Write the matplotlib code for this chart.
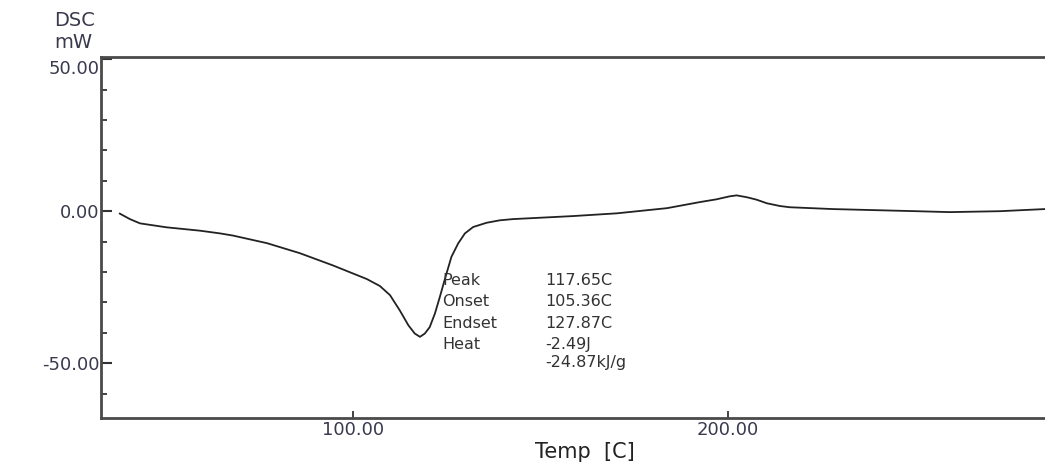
import numpy as np
import matplotlib
matplotlib.use("Agg")
import matplotlib.pyplot as plt
from matplotlib.ticker import MultipleLocator
from matplotlib.transforms import ScaledTranslation

# DSC curve: temperature [C] vs heat flow [mW]
temp = [37.6, 40.3, 43.0, 50.1, 59.0, 64.4, 67.8, 76.9, 85.7, 94.5, 103.6,
        107.1, 109.8, 112.4, 114.7, 116.4, 117.8, 119.1, 120.4, 121.8, 123.1,
        124.5, 126.2, 128.0, 129.8, 132.0, 135.6, 139.1, 142.6, 158.7, 170.4,
        183.8, 192.6, 197.0, 200.6, 202.4, 205.1, 207.7, 210.5, 214.0, 216.6,
        228.1, 250.5, 259.3, 272.7, 284.7]
dsc = [-0.8, -2.6, -4.0, -5.3, -6.4, -7.3, -8.0, -10.5, -13.8, -17.8, -22.3,
       -24.6, -27.6, -32.6, -37.5, -40.2, -41.3, -40.2, -38.1, -33.6, -28.2,
       -22.1, -15.0, -10.6, -7.3, -5.2, -3.8, -3.0, -2.6, -1.6, -0.7,
       1.0, 3.0, 3.9, 4.9, 5.2, 4.6, 3.8, 2.6, 1.7, 1.3,
       0.7, 0.0, -0.3, 0.0, 0.7]

xticks = [100, 200]
yticks = [-50, 0, 50]

peak_labels = ["Peak", "Onset", "Endset", "Heat", ""]
peak_values = ["117.65C", "105.36C", "127.87C", "-2.49J", "-24.87kJ/g"]

ink = "#3a3a4e"

fig = plt.figure(figsize=(10.45, 4.63), dpi=100)
ax = fig.add_axes([0.0964, 0.097, 0.9036, 0.780])

ax.plot(temp, dsc, color="#222222", lw=1.3)

ax.set_xlim(32.5, 284.8)
ax.set_ylim(-68, 50.7)

ax.set_xticks(xticks)
ax.set_xticklabels(["%.2f" % v for v in xticks])
ax.set_yticks(yticks)
ax.set_yticklabels(["%.2f" % v for v in yticks])
ax.yaxis.set_minor_locator(MultipleLocator(10))

for s in ["left", "top", "bottom"]:
    ax.spines[s].set_color("#4a4a4a")
    ax.spines[s].set_linewidth(2)
ax.spines["right"].set_visible(False)

ax.tick_params(axis="y", which="major", direction="in", length=8, width=1.5,
               color="#333333", pad=1, labelsize=13, labelcolor=ink)
ax.tick_params(axis="y", which="minor", direction="in", length=4, width=1.3,
               color="#333333")
ax.tick_params(axis="x", which="major", direction="in", length=5, width=1.3,
               color="#333333", pad=2, labelsize=13, labelcolor=ink)

# the top label sits a little below its tick in the original
top_lab = ax.get_yticklabels()[-1]
top_lab.set_transform(top_lab.get_transform() + ScaledTranslation(0, -8 / 100, fig.dpi_scale_trans))

# peak table
ys = [-22.8, -29.8, -36.8, -43.7, -49.8]
for lab, val, y in zip(peak_labels, peak_values, ys):
    ax.text(123.7, y, lab, fontsize=11.5, color="#333333", va="center", ha="left")
    ax.text(151.2, y, val, fontsize=11.5, color="#333333", va="center", ha="left")

fig.text(75 / 1045, 1 - 21 / 463, "DSC", fontsize=14, color=ink, ha="center", va="center")
fig.text(73 / 1045, 1 - 43 / 463, "mW", fontsize=14, color=ink, ha="center", va="center")
fig.text(585 / 1045, 1 - 452 / 463, "Temp  [C]", fontsize=15, color="#222222",
         ha="center", va="center")

fig.savefig("out.png", dpi=100)
